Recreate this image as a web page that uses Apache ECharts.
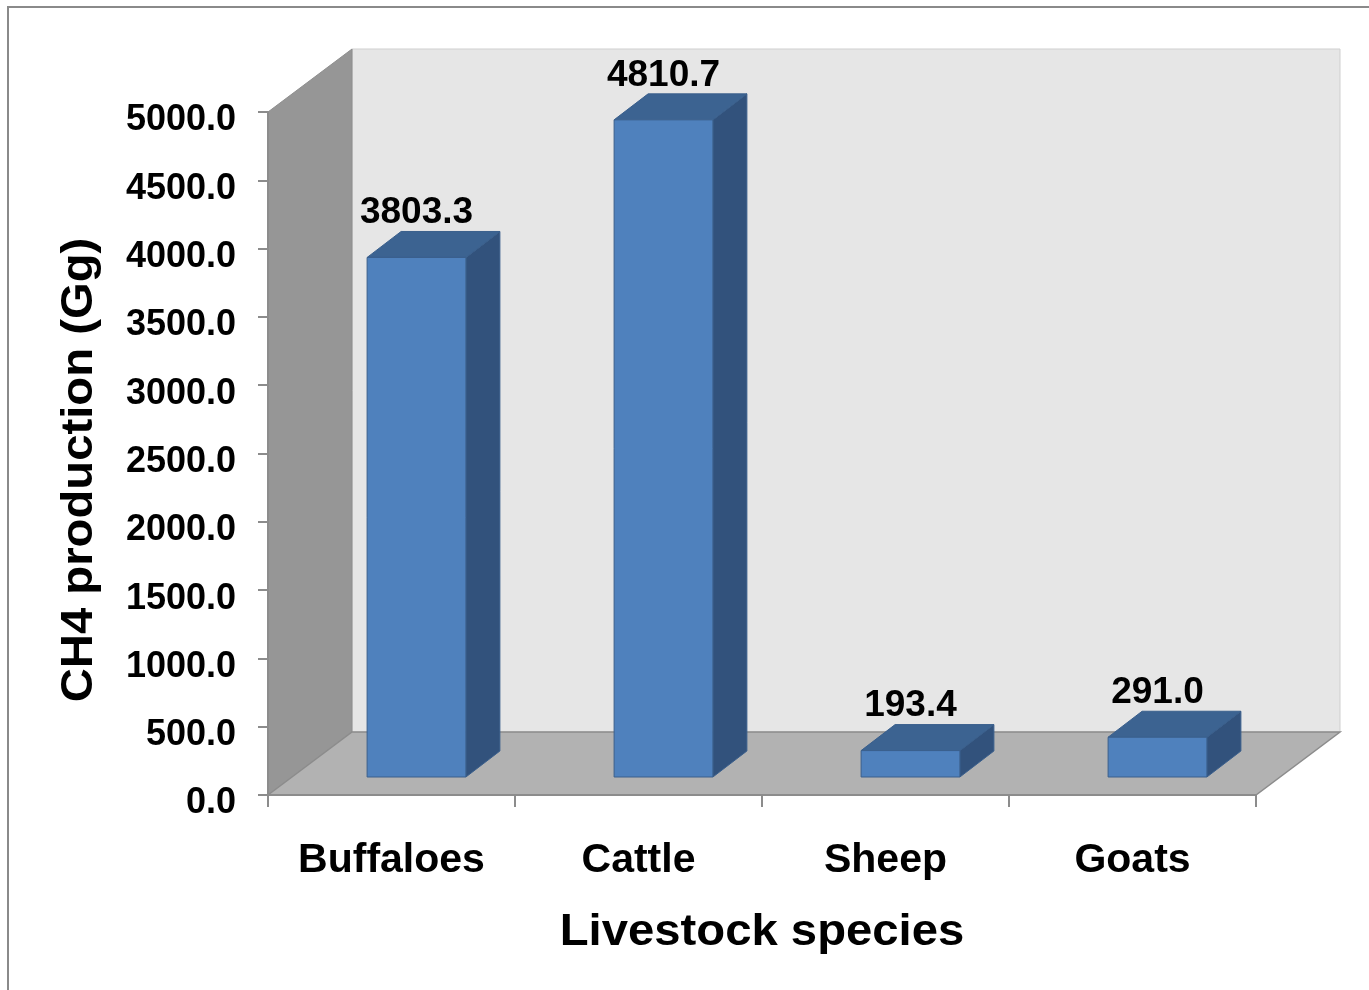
<!DOCTYPE html>
<html>
<head>
<meta charset="utf-8">
<script src="https://cdn.jsdelivr.net/npm/echarts@6/dist/echarts.min.js"></script>
<style>
  html, body { margin: 0; padding: 0; background: #fff; }
  #chart { width: 1369px; height: 990px; }
</style>
</head>
<body>
<div id="chart"></div>
<script>
// Livestock CH4 production (Gg)
const categories = ['Buffaloes', 'Cattle', 'Sheep', 'Goats'];
const ch4Values = [3803.3, 4810.7, 193.4, 291.0];
const yTicks = [0, 500, 1000, 1500, 2000, 2500, 3000, 3500, 4000, 4500, 5000];

const Y_MIN = yTicks[0];
const Y_MAX = yTicks[yTicks.length - 1];
const Y_STEP = yTicks[1] - yTicks[0];

const FONT = '"Liberation Sans", Arial, Helvetica, sans-serif';

// pseudo-3D projection: offsets (px) along the depth direction
const WALL_DEPTH = [84, -63];   // full depth of the floor / side wall
const BAR_FRONT = [25, -18];    // where a bar's front face sits in depth
const BAR_DEPTH = [34, -26];    // thickness of a bar in depth
const BAR_RATIO = 0.4;          // bar width as share of category band

// back wall, side wall and floor built from the axis extents
function renderWalls(params, api) {
  const band = api.size([1, 0])[0];
  const bottomLeft = api.coord([0, Y_MIN]);
  const topRight = api.coord([categories.length - 1, Y_MAX]);
  const left = bottomLeft[0] - band / 2;
  const right = topRight[0] + band / 2;
  const yb = bottomLeft[1];
  const yt = topRight[1];
  const dx = WALL_DEPTH[0], dy = WALL_DEPTH[1];
  return {
    type: 'group',
    children: [
      {
        type: 'polygon',
        shape: { points: [[left + dx, yt + dy], [right + dx, yt + dy], [right + dx, yb + dy], [left + dx, yb + dy]] },
        style: { fill: '#e6e6e6', stroke: '#cfcfcf', lineWidth: 1 }
      },
      {
        type: 'polygon',
        shape: { points: [[left, yt], [left + dx, yt + dy], [left + dx, yb + dy], [left, yb]] },
        style: { fill: '#969696', stroke: '#8e8e8e', lineWidth: 1 }
      },
      {
        type: 'polygon',
        shape: { points: [[left, yb], [left + dx, yb + dy], [right + dx, yb + dy], [right, yb]] },
        style: { fill: '#b2b2b2', stroke: '#8c8c8c', lineWidth: 1.5 }
      }
    ]
  };
}

// one box per category: front, top and right side plus the value label
function renderBar(params, api) {
  const idx = api.value(0);
  const val = api.value(1);
  const base = api.coord([idx, Y_MIN]);
  const head = api.coord([idx, val]);
  const band = api.size([1, 0])[0];
  const w = band * BAR_RATIO;
  const fx = base[0] - w / 2 + BAR_FRONT[0];
  const fy0 = base[1] + BAR_FRONT[1];
  const fy1 = head[1] + BAR_FRONT[1];
  const dx = BAR_DEPTH[0], dy = BAR_DEPTH[1];
  const edge = { stroke: '#3a5f8c', lineWidth: 1, lineJoin: 'round' };
  return {
    type: 'group',
    children: [
      {
        type: 'polygon',
        shape: { points: [[fx + w, fy1], [fx + w + dx, fy1 + dy], [fx + w + dx, fy0 + dy], [fx + w, fy0]] },
        style: Object.assign({ fill: '#32527c' }, edge)
      },
      {
        type: 'polygon',
        shape: { points: [[fx, fy1], [fx + w, fy1], [fx + w + dx, fy1 + dy], [fx + dx, fy1 + dy]] },
        style: Object.assign({ fill: '#3c6391' }, edge)
      },
      {
        type: 'rect',
        shape: { x: fx, y: fy1, width: w, height: fy0 - fy1 },
        style: Object.assign({ fill: '#4f81bd' }, edge)
      },
      {
        type: 'text',
        x: fx + w / 2,
        y: fy1 + dy,
        style: {
          text: val.toFixed(1),
          fill: '#000',
          font: 'bold 37px ' + FONT,
          align: 'center',
          verticalAlign: 'bottom'
        }
      }
    ]
  };
}

const chart = echarts.init(document.getElementById('chart'), null, { renderer: 'canvas' });

chart.setOption({
  animation: false,
  backgroundColor: '#ffffff',
  grid: { left: 268, right: 113, top: 112, bottom: 195, containLabel: false },
  xAxis: {
    type: 'category',
    data: categories,
    boundaryGap: true,
    z: 10,
    axisLine: { show: true, lineStyle: { color: '#8c8c8c', width: 2 } },
    axisTick: { show: true, length: 12, alignWithLabel: false, lineStyle: { color: '#8c8c8c', width: 2 } },
    axisLabel: { fontSize: 41, fontWeight: 'bold', color: '#000', fontFamily: FONT, margin: 45 },
    splitLine: { show: false }
  },
  yAxis: {
    type: 'value',
    min: Y_MIN,
    max: Y_MAX,
    interval: Y_STEP,
    z: 10,
    axisLine: { show: true, lineStyle: { color: '#8c8c8c', width: 2 } },
    axisTick: { show: true, length: 10, lineStyle: { color: '#8c8c8c', width: 2 } },
    axisLabel: {
      fontSize: 36, fontWeight: 'bold', color: '#000', fontFamily: FONT, margin: 32,
      verticalAlign: 'top',
      lineHeight: 17,
      formatter: v => v.toFixed(1)
    },
    splitLine: { show: false }
  },
  graphic: [
    {
      type: 'rect',
      shape: { x: 8, y: 7, width: 1400, height: 1010 },
      style: { fill: 'none', stroke: '#8a8a8a', lineWidth: 2 },
      silent: true,
      z: -10
    },
    {
      type: 'text',
      x: 80, y: 470,
      rotation: Math.PI / 2,
      scaleX: 1.05,
      style: { text: 'CH4 production (Gg)', font: 'bold 45px ' + FONT, fill: '#000', align: 'center', verticalAlign: 'middle' },
      silent: true
    },
    {
      type: 'text',
      x: 762, y: 933,
      scaleX: 1.05,
      style: { text: 'Livestock species', font: 'bold 45px ' + FONT, fill: '#000', align: 'center', verticalAlign: 'middle' },
      silent: true
    }
  ],
  series: [
    {
      type: 'custom',
      name: 'walls',
      silent: true,
      clip: false,
      z: 1,
      renderItem: renderWalls,
      data: [[0, Y_MAX]]
    },
    {
      type: 'custom',
      name: 'CH4 production',
      silent: true,
      clip: false,
      z: 2,
      renderItem: renderBar,
      data: ch4Values.map((v, i) => [i, v])
    }
  ]
});
</script>
</body>
</html>
